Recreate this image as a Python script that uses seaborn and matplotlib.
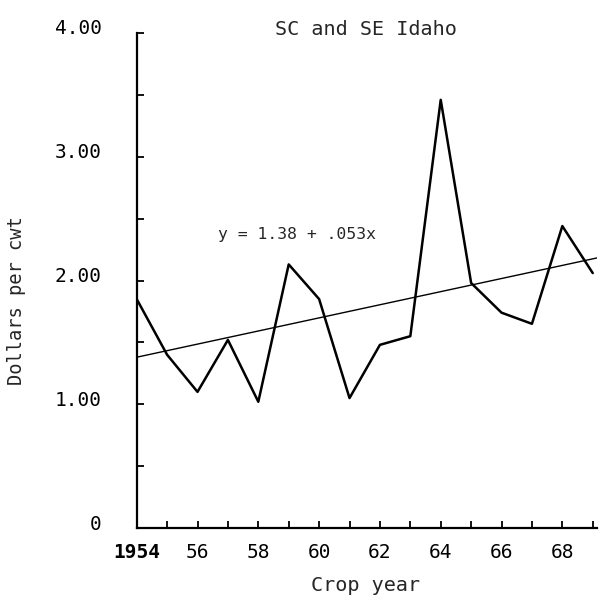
import matplotlib
matplotlib.use("Agg")
import matplotlib.pyplot as plt
import matplotlib.transforms as mtransforms
import seaborn as sns
import pandas as pd
import numpy as np

# ---- data ----
years = [1954, 1955, 1956, 1957, 1958, 1959, 1960, 1961,
         1962, 1963, 1964, 1965, 1966, 1967, 1968, 1969]
prices = [1.85, 1.40, 1.10, 1.52, 1.02, 2.13, 1.85, 1.05,
          1.48, 1.55, 3.46, 1.98, 1.74, 1.65, 2.44, 2.06]
trend_intercept = 1.38
trend_slope = 0.053
trend_base_year = 1954
trend_years = [1954, 1969.15]

x_tick_values = list(range(1954, 1970))
x_tick_labels = ["1954", "", "56", "", "58", "", "60", "", "62", "", "64", "", "66", "", "68", ""]
y_tick_values = [0, 0.5, 1.0, 1.5, 2.0, 2.5, 3.0, 3.5, 4.0]
y_tick_labels = ["0", "", "1.00", "", "2.00", "", "3.00", "", "4.00"]

title_text = "SC and SE Idaho"
equation_text = "y = 1.38 + .053x"
x_label = "Crop year"
y_label = "Dollars per cwt"

df = pd.DataFrame({"year": years, "price": prices})
trend_df = pd.DataFrame({
    "year": trend_years,
    "price": [trend_intercept + trend_slope * (y - trend_base_year) for y in trend_years],
})

sns.set_style("ticks")
plt.rcParams["font.family"] = ["DejaVu Sans Mono", "DejaVu Sans"]

fig = plt.figure(figsize=(6.02, 5.95), dpi=100)
fig.patch.set_facecolor("white")
W, H = 602, 595
left_px, right_px, bottom_px, top_px = 136.7, 597.3, 528, 33
ax = fig.add_axes([left_px / W, (H - bottom_px) / H,
                   (right_px - left_px) / W, (bottom_px - top_px) / H])
ax.set_facecolor("white")

sns.lineplot(data=df, x="year", y="price", ax=ax, color="black", linewidth=1.8)
sns.lineplot(data=trend_df, x="year", y="price", ax=ax, color="black", linewidth=1.0)

ax.set_xlim(1954, 1969.15)
ax.set_ylim(0, 4.0)

ax.set_xticks(x_tick_values)
ax.set_xticklabels(x_tick_labels)
ax.set_yticks(y_tick_values)
ax.set_yticklabels(y_tick_labels)

for side in ["top", "right"]:
    ax.spines[side].set_visible(False)
for side in ["left", "bottom"]:
    ax.spines[side].set_linewidth(1.6)
    ax.spines[side].set_color("black")

ax.tick_params(axis="both", direction="in", length=5, width=1.3, colors="black")
ax.tick_params(axis="x", pad=11, labelsize=14)
ax.tick_params(axis="y", pad=25, labelsize=14)

offset = mtransforms.ScaledTranslation(0, 6 / 100, fig.dpi_scale_trans)
for lbl in ax.get_yticklabels():
    lbl.set_transform(lbl.get_transform() + offset)
ax.get_xticklabels()[0].set_fontweight("bold")

ax.set_xlabel(x_label, fontsize=14.5, va="top")
ax.xaxis.set_label_coords(0.496, -0.097)
ax.set_ylabel(y_label, fontsize=13.5, ha="center", va="center")
ax.yaxis.set_label_coords(-0.26, 0.46)

ax.text(0.498, 1.008, title_text, transform=ax.transAxes, ha="center", va="center",
        fontsize=14.5)
ax.text(1956.67, 2.37, equation_text, ha="left", va="center", fontsize=11.8)

fig.savefig("out.png", dpi=100, facecolor="white")
